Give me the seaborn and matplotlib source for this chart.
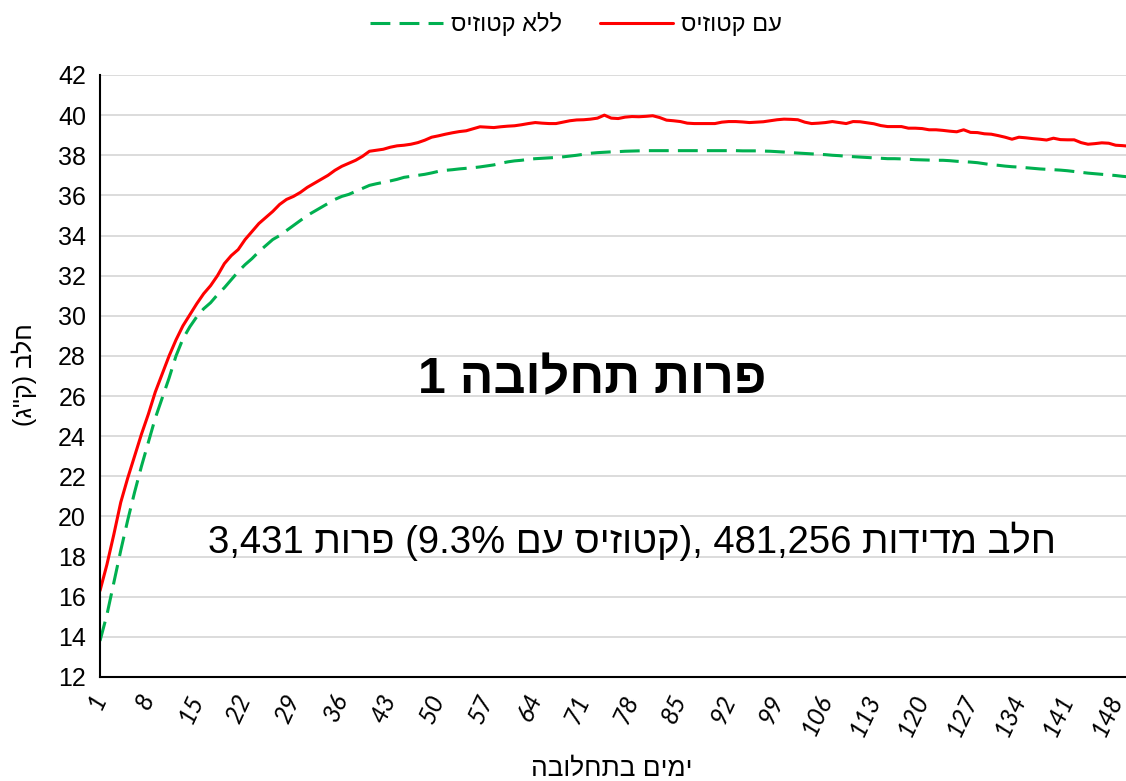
import numpy as np
import pandas as pd
import seaborn as sns
import matplotlib.pyplot as plt
from matplotlib.ticker import MultipleLocator, FixedLocator


def vis(s):
    # matplotlib has no bidi, so hebrew text is given in visual order
    swap = {"(": ")", ")": "("}
    return "".join(swap.get(c, c) for c in s[::-1])


days = list(range(1, 151))

milk_ketosis = [
    16.3, 17.6, 19.1, 20.7, 21.9, 23.0, 24.1, 25.1, 26.2, 27.1,
    28.0, 28.8, 29.5, 30.05, 30.6, 31.1, 31.5, 32.0, 32.6, 33.0,
    33.3, 33.8, 34.2, 34.6, 34.9, 35.2, 35.55, 35.8, 35.95, 36.15,
    36.4, 36.6, 36.8, 37.0, 37.25, 37.45, 37.6, 37.75, 37.95, 38.2,
    38.25, 38.3, 38.4, 38.47, 38.5, 38.55, 38.63, 38.75, 38.9, 38.97,
    39.05, 39.12, 39.18, 39.22, 39.32, 39.42, 39.4, 39.38, 39.42, 39.45,
    39.47, 39.52, 39.58, 39.63, 39.6, 39.58, 39.58, 39.65, 39.72, 39.76,
    39.77, 39.8, 39.85, 40.0, 39.85, 39.83, 39.9, 39.93, 39.92, 39.94,
    39.97, 39.88, 39.75, 39.72, 39.68, 39.6, 39.58, 39.58, 39.58, 39.58,
    39.65, 39.68, 39.68, 39.66, 39.63, 39.65, 39.67, 39.72, 39.77, 39.8,
    39.79, 39.77, 39.65, 39.58, 39.6, 39.63, 39.68, 39.63, 39.58, 39.68,
    39.67, 39.62, 39.57, 39.48, 39.43, 39.43, 39.43, 39.35, 39.35, 39.33,
    39.27, 39.27, 39.24, 39.2, 39.17, 39.27, 39.14, 39.13, 39.07, 39.05,
    38.98, 38.9, 38.8, 38.9, 38.87, 38.83, 38.8, 38.76, 38.85, 38.78,
    38.77, 38.77, 38.63, 38.55, 38.58, 38.62, 38.6, 38.5, 38.48, 38.45,
]

milk_no_ketosis = [
    13.8, 15.1, 16.7, 18.3, 19.8, 21.2, 22.5, 23.7, 24.9, 25.9,
    26.9, 28.0, 28.85, 29.45, 29.95, 30.35, 30.65, 31.05, 31.4, 31.8,
    32.2, 32.55, 32.85, 33.2, 33.5, 33.8, 34.0, 34.25, 34.5, 34.75,
    35.0, 35.2, 35.4, 35.6, 35.8, 35.95, 36.05, 36.2, 36.35, 36.5,
    36.58, 36.65, 36.72, 36.8, 36.9, 36.95, 37.0, 37.05, 37.12, 37.2,
    37.25, 37.28, 37.32, 37.35, 37.38, 37.42, 37.47, 37.52, 37.6, 37.67,
    37.72, 37.75, 37.8, 37.83, 37.85, 37.87, 37.89, 37.92, 37.96, 38.0,
    38.05, 38.1, 38.13, 38.15, 38.17, 38.18, 38.2, 38.21, 38.22, 38.23,
    38.23, 38.23, 38.23, 38.23, 38.23, 38.23, 38.23, 38.23, 38.23, 38.23,
    38.23, 38.23, 38.23, 38.22, 38.22, 38.22, 38.21, 38.2, 38.18, 38.16,
    38.13, 38.11, 38.09, 38.07, 38.05, 38.03, 38.0, 37.98, 37.95, 37.93,
    37.91, 37.89, 37.87, 37.85, 37.83, 37.83, 37.82, 37.8, 37.78, 37.77,
    37.76, 37.75, 37.75, 37.73, 37.7, 37.68, 37.66, 37.63, 37.58, 37.53,
    37.5, 37.46, 37.43, 37.41, 37.38, 37.35, 37.32, 37.3, 37.28, 37.26,
    37.23, 37.19, 37.15, 37.11, 37.08, 37.05, 37.02, 36.99, 36.95, 36.92,
]

label_no = vis("ללא קטוזיס")
label_yes = vis("עם קטוזיס")
title_txt = vis("פרות תחלובה 1")
note_txt = " ".join(["3,431", vis("פרות"), "(9.3%", vis("עם"), vis("קטוזיס") + "),",
                     "481,256", vis("מדידות"), vis("חלב")])
xlabel_txt = vis("ימים בתחלובה")
ylabel_txt = vis('חלב (ק"ג)')

x_tick_days = list(range(1, 150, 7))

df = pd.DataFrame({
    "day": days * 2,
    "milk": milk_no_ketosis + milk_ketosis,
    "group": [label_no] * len(days) + [label_yes] * len(days),
})

sns.set_style("white")
plt.rcParams["font.family"] = ["Liberation Sans", "DejaVu Sans"]
plt.rcParams.update({"text.color": "black", "xtick.color": "black",
                     "ytick.color": "black", "axes.labelcolor": "black"})

fig = plt.figure(figsize=(11.26, 7.81), dpi=100)
ax = fig.add_axes([100 / 1126, 1 - 677 / 781, 1026 / 1126, 602 / 781])

sns.lineplot(data=df, x="day", y="milk", hue="group", style="group",
             palette={label_no: "#00B050", label_yes: "#FF0000"},
             dashes={label_no: (6.5, 3), label_yes: ""},
             linewidth=2.2, ax=ax)

ax.set_xlim(1, 149.5)
ax.set_ylim(12, 42)
ax.yaxis.set_major_locator(MultipleLocator(2))
ax.yaxis.grid(True, color="#D9D9D9", linewidth=1.3)
ax.set_axisbelow(True)
ax.xaxis.set_major_locator(FixedLocator(x_tick_days))
ax.xaxis.set_minor_locator(MultipleLocator(1))
ax.set_xticklabels([str(d) for d in x_tick_days], rotation=65, ha="right",
                   va="center", rotation_mode="anchor", fontsize=18,
                   family=["Lato", "DejaVu Sans"], style="italic", color="black")
ax.tick_params(axis="x", which="major", direction="in", length=6, width=1.3, pad=13)
ax.tick_params(axis="x", which="minor", direction="in", length=3, width=1.2)
ax.tick_params(axis="y", which="major", direction="in", length=6, width=1.3,
               pad=10, labelsize=18, labelcolor="black")
for s in ["top", "right"]:
    ax.spines[s].set_visible(False)
for s in ["left", "bottom"]:
    ax.spines[s].set_color("black")
    ax.spines[s].set_linewidth(1.5)
ax.set_xlabel("")
ax.set_ylabel("")

handles, labels = ax.get_legend_handles_labels()
ax.get_legend().remove()
fig.legend(handles, labels, loc="upper center", bbox_to_anchor=(576 / 1126, 1.012),
           ncol=2, frameon=False, fontsize=17, handlelength=3.1,
           handletextpad=0.35, columnspacing=1.6, labelcolor="black")

fig.text(592 / 1126, 1 - 380 / 781, title_txt, ha="center", va="center",
         fontsize=36, fontweight="bold", color="black")
fig.text(632 / 1126, 1 - 541 / 781, note_txt, ha="center", va="center",
         fontsize=27.5, color="black")
fig.text(24 / 1126, 1 - 375 / 781, ylabel_txt, ha="center", va="center",
         rotation=90, fontsize=18, color="black")
fig.text(612 / 1126, 1 - 757 / 781, xlabel_txt, ha="center", va="top",
         fontsize=19, color="black")

fig.savefig("out.png", dpi=100)
